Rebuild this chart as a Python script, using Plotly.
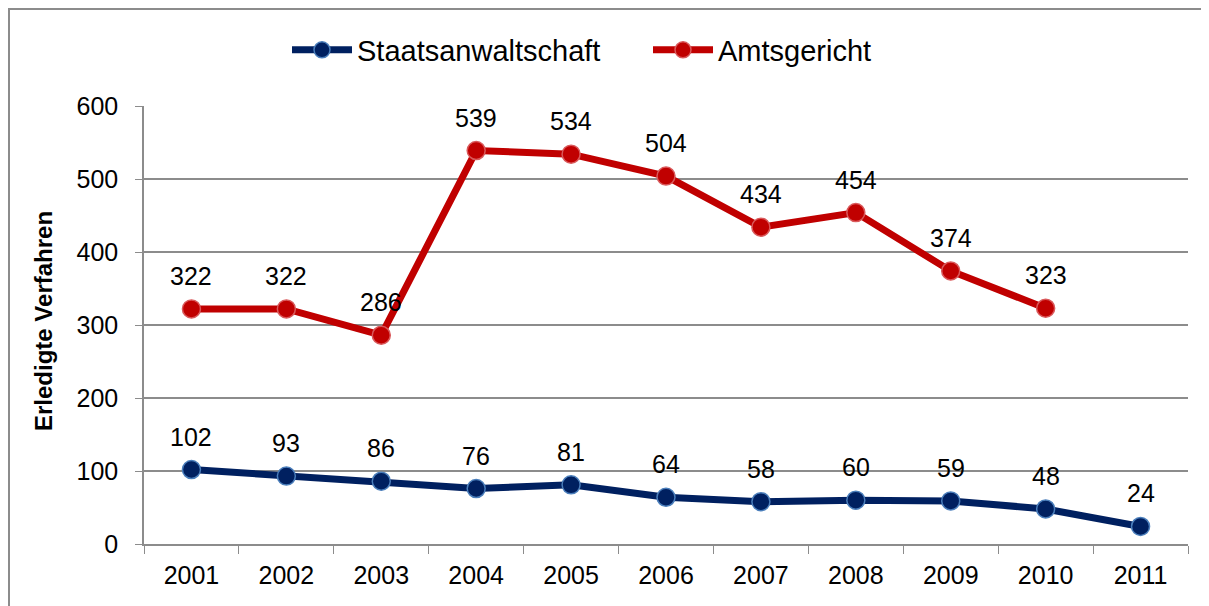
import plotly.graph_objects as go

years = ["2001", "2002", "2003", "2004", "2005", "2006", "2007", "2008", "2009", "2010", "2011"]
staatsanwaltschaft = [102, 93, 86, 76, 81, 64, 58, 60, 59, 48, 24]
amtsgericht = [322, 322, 286, 539, 534, 504, 434, 454, 374, 323, None]

# page is offset by the 8px body margin, so margins are shifted to compensate
W, H = 1209, 606
L, R, T, B = 136, 29, 98, 70
pw, ph = W - L - R, H - T - B

font = "Liberation Sans, Arial, sans-serif"

fig = go.Figure()
fig.add_trace(go.Scatter(
    x=years, y=staatsanwaltschaft, name="Staatsanwaltschaft",
    mode="lines+markers",
    line=dict(color="#002060", width=7),
    marker=dict(size=18, color="#002060", line=dict(color="#4a7ebb", width=1.5)),
))
fig.add_trace(go.Scatter(
    x=years, y=amtsgericht, name="Amtsgericht",
    mode="lines+markers",
    line=dict(color="#c00000", width=7),
    marker=dict(size=18, color="#c00000", line=dict(color="#d9595b", width=1.5)),
))

# data labels above the points (category index as x)
for series in (staatsanwaltschaft, amtsgericht):
    for i, v in enumerate(series):
        if v is None:
            continue
        fig.add_annotation(x=i, y=v, text=str(v), showarrow=False,
                           yshift=33, font=dict(size=25, color="black", family=font))

# y axis title
fig.add_annotation(xref="paper", yref="paper", x=(35 - L) / pw, y=(H - B - 313) / ph,
                   xanchor="center", yanchor="middle", textangle=-90, showarrow=False,
                   text="<b>Erledigte Verfahren</b>", font=dict(size=24, family=font))

# outer chart border (right/bottom edges cropped off)
fig.add_shape(type="rect", xref="paper", yref="paper",
              x0=(1 - L) / pw, x1=(W + 10 - L) / pw,
              y0=(H - B - H - 10) / ph, y1=(H - B - 1) / ph,
              line=dict(color="#8c8c8c", width=2), layer="below")

fig.update_layout(
    width=W, height=H,
    margin=dict(l=L, r=R, t=T, b=B, autoexpand=False),
    paper_bgcolor="white", plot_bgcolor="white",
    font=dict(family=font, size=25, color="black"),
    showlegend=True,
    legend=dict(orientation="h", x=(279 - L) / pw, xanchor="left",
                y=(H - B - 42) / ph, yanchor="middle",
                bgcolor="rgba(0,0,0,0)",
                font=dict(size=29), itemwidth=60, traceorder="normal",
                entrywidth=286),
    xaxis=dict(type="category", range=[-0.5, 10.5], showgrid=False,
               showline=True, linecolor="#8c8c8c", linewidth=1.5,
               ticks="outside", tickson="boundaries", ticklen=8, tickcolor="#8c8c8c",
               ticklabelstandoff=8, tickfont=dict(size=25)),
    yaxis=dict(range=[0, 600], dtick=100, showgrid=True, gridcolor="#8c8c8c", gridwidth=1.5,
               showline=True, linecolor="#8c8c8c", linewidth=1.5,
               ticks="outside", ticklen=7, tickcolor="#8c8c8c", zeroline=False,
               ticklabelstandoff=12, tickfont=dict(size=25)),
)

fig.write_html("out.html")
